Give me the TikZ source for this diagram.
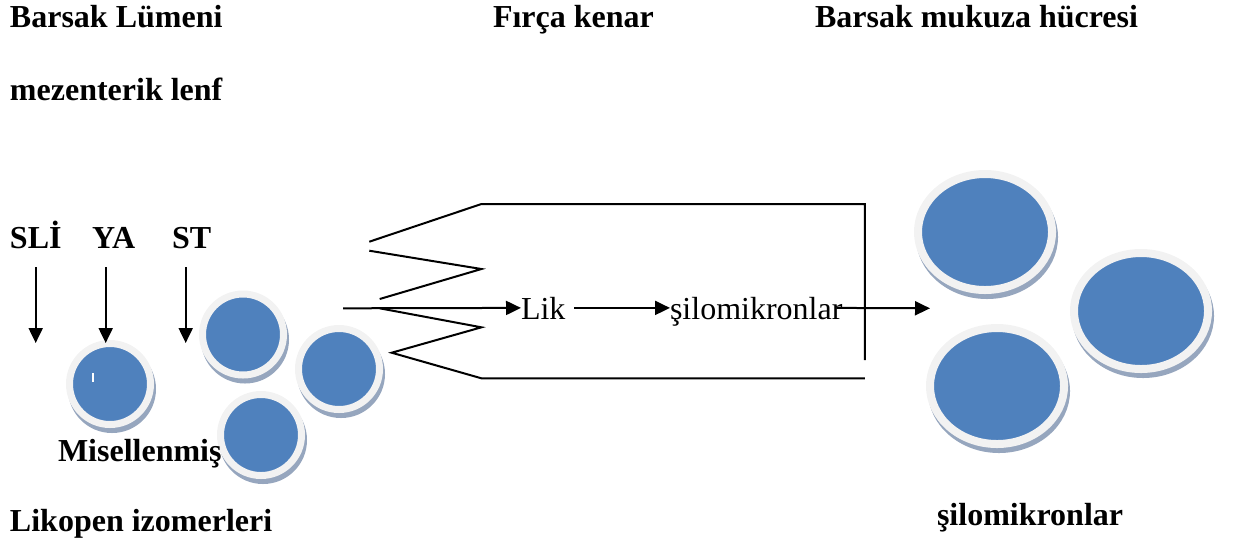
\documentclass[tikz,border=0pt]{standalone}
\usepackage{fontspec}
\setmainfont{Liberation Serif}
\usepackage{tikz}
\usetikzlibrary{positioning}
\usetikzlibrary{arrows.meta}
\usetikzlibrary{shapes.geometric}
\usetikzlibrary{shadows}

\definecolor{discblue}{RGB}{79,129,189}
\definecolor{discring}{RGB}{242,242,242}
\definecolor{discrim}{RGB}{150,166,190}

\begin{document}
\begin{tikzpicture}[
    x=0.5pt, y=-0.5pt,          % one unit per pixel, y going down
    font=\fontsize{16}{19}\selectfont,
    ]
% -------------------------------------------------
\tikzset{
  txt/.style={anchor=base west, inner sep=0pt, outer sep=0pt},
  head/.style={txt, font=\fontsize{16}{19}\selectfont\bfseries},
  micelle/.style={circle, inner sep=0pt, minimum size=40.5pt, fill=discblue,
    draw=discring, line width=3.5pt,
    general shadow={fill=discrim, draw=discrim, line width=3.5pt,
      shadow xshift=1pt, shadow yshift=-2.5pt}},
  chylo/.style={ellipse, inner sep=0pt, minimum width=67pt, minimum height=58pt,
    fill=discblue, draw=discring, line width=4pt,
    general shadow={fill=discrim, draw=discrim, line width=4pt,
      shadow xshift=1pt, shadow yshift=-2.5pt}},
  arr/.style={draw, line width=1pt, -{Triangle[length=7.5pt, width=7pt]}},
  wall/.style={draw, line width=1pt}
}
\useasboundingbox (0,0) rectangle (1234,543);
% -------------------------------------------------
% Placing the nodes

\node[head] (lumen) at (10,27) {Barsak Lümeni};
\node[head] (brush) at (493,27) {Fırça kenar};
\node[head] (cell) at (815,27) {Barsak mukuza hücresi};
\node[head] (lymph) at (10,100) {mezenterik lenf};

\node[head] (sli) at (10,248) {SLİ};
\node[head] (ya) at (92,248) {YA};
\node[head] (st) at (172,248) {ST};

\node[micelle] (m0) at (110,384) {};
\node[micelle] (m1) at (243,334.5) {};
\node[micelle] (m2) at (339,369) {};
\node[micelle] (m3) at (261,435) {};
\draw[white, line width=1pt] (92.5,373) -- (92.5,382);

\node[head] (misel) at (58,461) {Misellenmiş};
\node[head] (lyco) at (10,531) {Likopen izomerleri};

\node[txt] (lik) at (521,319) {Lik};
\node[txt] (silo) at (670,319) {şilomikronlar};

\node[chylo] (c1) at (985,232) {};
\node[chylo] (c2) at (1141,311) {};
\node[chylo] (c3) at (997,386) {};

\node[head] (chyl) at (937,525) {şilomikronlar};

% villus outline: brush border teeth and cell wall
\path[wall] (369.3,241.7) -- (481.4,204) -- (864.8,204) -- (864.8,360);
\path[wall] (369.3,250.7) -- (481.4,269) -- (379.7,299);
\path[wall] (379.7,308.3) -- (481.4,327.3) -- (391.7,352.7) -- (481.4,378.3) -- (864.8,378.3);

% arrows
\coordinate (sliA) at (35.7,267);
\coordinate (sliB) at (35.7,343);
\coordinate (yaA) at (105.7,267);
\coordinate (yaB) at (105.7,343);
\coordinate (stA) at (185.7,267);
\coordinate (stB) at (185.7,343);
\coordinate (gut) at (343,308.3);
\coordinate (cellin) at (930,308.3);

\path [arr] (sliA) -- (sliB);
\path [arr] (yaA) -- (yaB);
\path [arr] (stA) -- (stB);
\path [arr] (gut) -- (lik.west);
\path [arr] ([xshift=4.5pt]lik.east) -- (lik.east -| silo.west);
\path [arr] ([xshift=-3pt]silo.east |- lik.east) -- (cellin);

\end{tikzpicture}
\end{document}
